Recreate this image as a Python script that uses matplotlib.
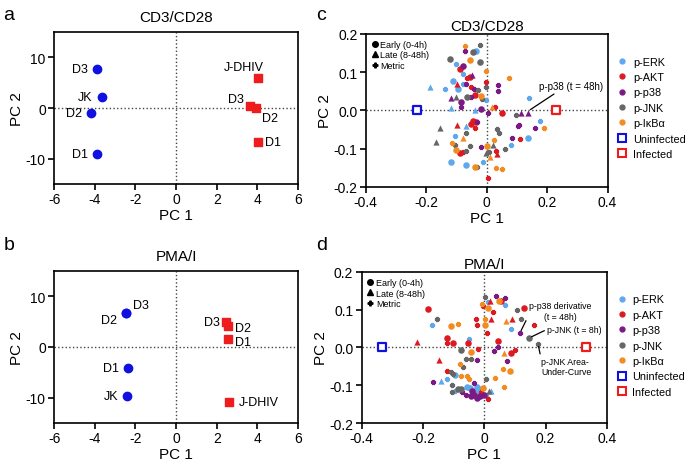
import matplotlib.pyplot as plt
from matplotlib.lines import Line2D

plt.rcParams['font.family'] = ['Liberation Sans', 'DejaVu Sans']
plt.rcParams['axes.unicode_minus'] = False

# ---- panels a / b : sample PCA ----
a_unf_x = [-3.9, -3.65, -4.2, -3.9]
a_unf_y = [7.6, 2.1, -0.9, -9.0]
a_unf_lab = ['D3', 'JK', 'D2', 'D1']
a_inf_x = [4.03, 3.62, 3.92, 4.03]
a_inf_y = [6.0, 0.4, 0.0, -6.6]
a_inf_lab = ['J-DHIV', 'D3', 'D2', 'D1']

b_unf_x = [-2.45, -2.45, -2.35, -2.4]
b_unf_y = [6.7, 6.7, -4.2, -9.6]
b_unf_lab = ['D3', 'D2', 'D1', 'JK']
b_inf_x = [2.45, 2.55, 2.55, 2.63]
b_inf_y = [5.0, 4.1, 1.5, -10.9]
b_inf_lab = ['D3', 'D2', 'D1', 'J-DHIV']

# ---- panels c / d : metric loadings (x, y) per protein and time class ----
c_data = {
    'p-ERK': {
        'early': ([-0.036, -0.110, -0.094, 0.138, -0.119, -0.067],
                  [0.154, 0.078, 0.056, -0.073, -0.134, -0.142]),
        'late': ([-0.187, -0.119, -0.039, -0.067],
                 [0.062, 0.007, 0.001, -0.041]),
        'metric': ([-0.102, -0.080, -0.139, -0.001, 0.139, 0.175, -0.105, 0.080, -0.013, -0.080],
                   [0.122, 0.095, 0.056, 0.026, 0.033, -0.028, -0.068, -0.090, -0.134, 0.069]),
    },
    'p-AKT': {
        'early': ([-0.087, -0.056, -0.040, 0.050, -0.045, -0.036, -0.052, -0.087],
                  [0.108, 0.087, 0.041, -0.006, -0.027, -0.031, -0.035, -0.112]),
        'late': ([-0.099, 0.035, -0.099],
                 [0.068, -0.115, -0.037]),
        'metric': ([-0.066, -0.053, -0.003, 0.028, -0.040, 0.110, 0.030, 0.003, -0.078],
                   [0.085, 0.062, 0.075, 0.010, -0.047, -0.076, -0.105, -0.176, -0.110]),
    },
    'p-p38': {
        'early': ([-0.077, -0.084, -0.019],
                  [0.115, 0.021, 0.004]),
        'late': ([-0.047, -0.119, 0.115, 0.137],
                 [0.093, 0.033, -0.007, -0.006]),
        'metric': ([-0.072, -0.069, -0.043, 0.037, 0.037, -0.053, -0.084, 0.003, -0.031,
                    0.107, 0.102, 0.161, 0.083, -0.020],
                   [0.155, 0.069, 0.055, 0.065, 0.050, 0.034, 0.008, -0.007, -0.031,
                    -0.037, -0.041, -0.047, -0.073, -0.095]),
    },
    'p-JNK': {
        'early': ([-0.045, -0.022, -0.121, -0.064],
                  [0.152, 0.126, 0.135, 0.034]),
        'late': ([-0.102, -0.155, -0.169, 0.020, -0.001],
                 [0.036, -0.047, -0.083, -0.090, -0.112]),
        'metric': ([-0.022, -0.003, -0.028, -0.014, 0.097, 0.035, 0.041, -0.067, -0.105,
                    -0.055, -0.069, 0.061, 0.006, -0.031],
                   [0.172, 0.062, 0.052, 0.030, -0.012, -0.048, -0.059, -0.060, -0.090,
                    -0.092, -0.105, -0.102, -0.109, -0.149]),
    },
    'p-IκBα': {
        'early': ([-0.055, -0.018, 0.002, -0.100, -0.040],
                  [0.132, 0.037, -0.094, -0.103, -0.149]),
        'late': ([0.017, -0.077, 0.010],
                 [0.010, -0.072, -0.122]),
        'metric': ([-0.072, -0.001, 0.074, 0.190, 0.023, -0.116, 0.030, 0.050],
                   [0.167, 0.104, 0.084, -0.047, -0.077, -0.086, -0.150, -0.153]),
    },
}

d_data = {
    'p-ERK': {
        'early': ([-0.095, -0.057, -0.046, -0.024, -0.019, -0.019, -0.030, -0.010],
                  [-0.072, -0.105, -0.107, -0.105, -0.111, -0.118, -0.115, -0.122]),
        'late': ([-0.140, 0.023],
                 [-0.088, -0.116]),
        'metric': ([0.013, 0.066, -0.172, 0.088, -0.051, -0.121, -0.095, 0.007],
                   [0.121, 0.112, 0.059, 0.050, 0.023, -0.083, -0.116, -0.127]),
    },
    'p-AKT': {
        'early': ([-0.185, 0.053, 0.128, -0.123, -0.102, -0.053, 0.087, 0.044],
                  [0.101, 0.122, 0.105, 0.026, 0.011, 0.013, -0.014, 0.016]),
        'late': ([0.020, 0.022, 0.090, -0.220, -0.147],
                 [0.123, 0.076, 0.076, 0.014, -0.033]),
        'metric': ([-0.004, 0.030, -0.026, -0.025, 0.008, 0.161, -0.121, -0.019, 0.100,
                    -0.123, 0.012, -0.010],
                   [0.109, 0.094, 0.075, 0.060, 0.037, 0.060, 0.013, -0.005, -0.007,
                    -0.061, -0.137, -0.118]),
    },
    'p-p38': {
        'early': ([-0.039, -0.032, -0.015, -0.024, -0.001, -0.045],
                  [-0.116, -0.127, -0.128, -0.134, -0.125, -0.128]),
        'late': ([], []),
        'metric': ([0.038, 0.069, 0.116, 0.045, 0.033, -0.025, 0.074, -0.167, -0.032,
                    -0.059, -0.072],
                   [0.136, 0.131, 0.038, 0.002, -0.010, -0.034, -0.037, -0.091, -0.093,
                    -0.127, -0.118]),
    },
    'p-JNK': {
        'early': ([0.146, -0.077, -0.086, -0.075],
                  [0.025, -0.007, -0.111, -0.109]),
        'late': ([0.014], [-0.116]),
        'metric': ([0.003, -0.153, 0.106, 0.119, 0.175, -0.061, -0.042, -0.070, -0.108,
                    -0.103, 0.007, -0.104, -0.104],
                   [0.134, 0.076, 0.098, 0.076, 0.010, -0.031, -0.031, -0.052, -0.065,
                    -0.070, -0.084, -0.118, -0.098]),
    },
    'p-IκBα': {
        'early': ([0.047, 0.013, -0.110, 0.001, -0.045, 0.084, -0.004],
                  [0.122, 0.105, 0.057, 0.059, -0.012, -0.063, -0.107]),
        'late': ([0.070, 0.063],
                 [0.069, -0.015]),
        'metric': ([-0.007, -0.085, 0.001, -0.078, 0.060, -0.075, -0.056, -0.051, 0.034, 0.065],
                   [0.114, 0.063, 0.076, -0.043, -0.058, -0.075, -0.075, -0.084, -0.081, -0.105]),
    },
}

c_unf = (-0.231, 0.0)
c_inf = (0.229, 0.0)
d_unf = (-0.333, 0.0)
d_inf = (0.333, 0.0)

proteins = ['p-ERK', 'p-AKT', 'p-p38', 'p-JNK', 'p-IκBα']
colors = {'p-ERK': '#5fa8ee', 'p-AKT': '#dd1a22', 'p-p38': '#7a1a82',
          'p-JNK': '#666666', 'p-IκBα': '#f28c22'}
markers = {'early': 'o', 'late': '^', 'metric': 'P'}
sizes = {'early': 22, 'late': 20, 'metric': 11}
edges = {'early': 0, 'late': 0, 'metric': 0.9}

BLUE = '#1010e0'
RED = '#ee1c1c'

fig = plt.figure(figsize=(6.85, 4.64), dpi=100)


def style_axes(ax):
    for s in ax.spines.values():
        s.set_linewidth(1.2)
    ax.tick_params(direction='out', length=4, width=1.2, labelsize=10, pad=2)
    ax.axhline(0, color='#444444', ls=':', lw=1, zorder=0)
    ax.axvline(0, color='#444444', ls=':', lw=1, zorder=0)
    ax.set_xlabel('PC 1', fontsize=11, labelpad=1)
    ax.set_ylabel('PC 2', fontsize=11, labelpad=1)


def sample_panel(rect, title, ux, uy, ulab, ix, iy, ilab, uoff, ioff):
    ax = fig.add_axes(rect)
    style_axes(ax)
    ax.scatter(ux, uy, s=36, color=BLUE, marker='o', zorder=3)
    ax.scatter(ix, iy, s=36, color=RED, marker='s', zorder=3)
    for x, y, t, (dx, dy, ha) in zip(ux, uy, ulab, uoff):
        ax.text(x + dx, y + dy, t, fontsize=9, ha=ha, va='center')
    for x, y, t, (dx, dy, ha) in zip(ix, iy, ilab, ioff):
        ax.text(x + dx, y + dy, t, fontsize=9, ha=ha, va='center')
    ax.set_xlim(-6, 6)
    ax.set_ylim(-15, 15)
    ax.set_xticks([-6, -4, -2, 0, 2, 4, 6])
    ax.set_yticks([-10, 0, 10])
    ax.set_title(title, fontsize=11, pad=8)
    return ax


sample_panel([0.079, 0.601, 0.356, 0.328], 'CD3/CD28',
             a_unf_x, a_unf_y, a_unf_lab, a_inf_x, a_inf_y, a_inf_lab,
             [(-0.45, 0, 'right')] * 4,
             [(-0.7, 2.0, 'center'), (-0.3, 1.3, 'right'), (0.3, -2.0, 'left'), (0.35, 0, 'left')])

sample_panel([0.079, 0.086, 0.356, 0.328], 'PMA/I',
             b_unf_x, b_unf_y, b_unf_lab, b_inf_x, b_inf_y, b_inf_lab,
             [(0.35, 1.6, 'left'), (-0.45, -1.3, 'right'), (-0.45, 0, 'right'), (-0.45, 0, 'right')],
             [(-0.3, 0, 'right'), (0.35, -0.3, 'left'), (0.35, -0.5, 'left'), (0.45, 0, 'left')])


def loading_panel(rect, title, data, unf, inf):
    ax = fig.add_axes(rect)
    style_axes(ax)
    for p in proteins:
        for k in ['metric', 'late', 'early']:
            xs, ys = data[p][k]
            ax.scatter(xs, ys, s=sizes[k], marker=markers[k], color=colors[p],
                       edgecolors=colors[p], linewidths=edges[k], zorder=3)
    ax.scatter([unf[0]], [unf[1]], s=40, marker='s', facecolor='white',
               edgecolor=BLUE, linewidths=1.6, zorder=4)
    ax.scatter([inf[0]], [inf[1]], s=40, marker='s', facecolor='white',
               edgecolor=RED, linewidths=1.6, zorder=4)
    ax.set_xlim(-0.4, 0.4)
    ax.set_ylim(-0.2, 0.2)
    ax.set_xticks([-0.4, -0.2, 0, 0.2, 0.4])
    ax.set_xticklabels(['-0.4', '-0.2', '0', '0.2', '0.4'])
    ax.set_yticks([-0.2, -0.1, 0, 0.1, 0.2])
    ax.set_yticklabels(['-0.2', '-0.1', '0.0', '0.1', '0.2'])
    ax.set_title(title, fontsize=11, pad=3)

    kh = [Line2D([], [], ls='', marker='o', color='black', ms=4),
          Line2D([], [], ls='', marker='^', color='black', ms=4),
          Line2D([], [], ls='', marker='P', color='black', ms=3.5, mew=0.9)]
    leg1 = ax.legend(kh, ['Early (0-4h)', 'Late (8-48h)', 'Metric'], loc='upper left',
                     bbox_to_anchor=(-0.005, 1.0), frameon=False, fontsize=6.5,
                     handlelength=0.8, handletextpad=0.2, labelspacing=0.15,
                     borderaxespad=0.3)
    ax.add_artist(leg1)

    ph = [Line2D([], [], ls='', marker='o', color=colors[p], ms=3.5) for p in proteins]
    ph += [Line2D([], [], ls='', marker='s', mfc='white', mec=BLUE, mew=1.5, ms=6),
           Line2D([], [], ls='', marker='s', mfc='white', mec=RED, mew=1.5, ms=6)]
    ax.legend(ph, proteins + ['Uninfected', 'Infected'], loc='upper left',
              bbox_to_anchor=(1.02, 0.88), frameon=False, fontsize=7.8,
              handlelength=1.0, handletextpad=0.5, labelspacing=0.5, borderaxespad=0)
    return ax


axc = loading_panel([0.534, 0.595, 0.353, 0.330], 'CD3/CD28', c_data, c_unf, c_inf)
axc.annotate('p-p38 (t = 48h)', xy=(0.137, -0.002), xytext=(0.173, 0.063),
             fontsize=7, va='center', ha='left',
             arrowprops=dict(arrowstyle='-', color='black', lw=0.9, shrinkA=0,
                             shrinkB=2, relpos=(0.3, 0)))

axd = loading_panel([0.528, 0.086, 0.358, 0.326], 'PMA/I', d_data, d_unf, d_inf)
axd.annotate('p-p38 derivative\n(t = 48h)', xy=(0.116, 0.038), xytext=(0.145, 0.096),
             fontsize=6.3, va='center', ha='left', multialignment='center',
             arrowprops=dict(arrowstyle='-', color='black', lw=0.9, shrinkA=0,
                             shrinkB=2, relpos=(0, 0.3)))
axd.annotate('p-JNK (t = 8h)', xy=(0.146, 0.025), xytext=(0.205, 0.048),
             fontsize=6.3, va='center', ha='left',
             arrowprops=dict(arrowstyle='-', color='black', lw=0.9, shrinkA=0,
                             shrinkB=2, relpos=(0, 0.5)))
axd.annotate('p-JNK Area-\nUnder-Curve', xy=(0.175, 0.010), xytext=(0.186, -0.050),
             fontsize=6.3, va='center', ha='left',
             arrowprops=dict(arrowstyle='-', color='black', lw=0.9, shrinkA=0,
                             shrinkB=2, relpos=(0, 0.85)))

for lab, x, y in [('a', 0.005, 0.985), ('c', 0.462, 0.985),
                  ('b', 0.005, 0.49), ('d', 0.462, 0.49)]:
    fig.text(x, y, lab, fontsize=14, ha='left', va='top')

fig.savefig('out.png', dpi=100)
